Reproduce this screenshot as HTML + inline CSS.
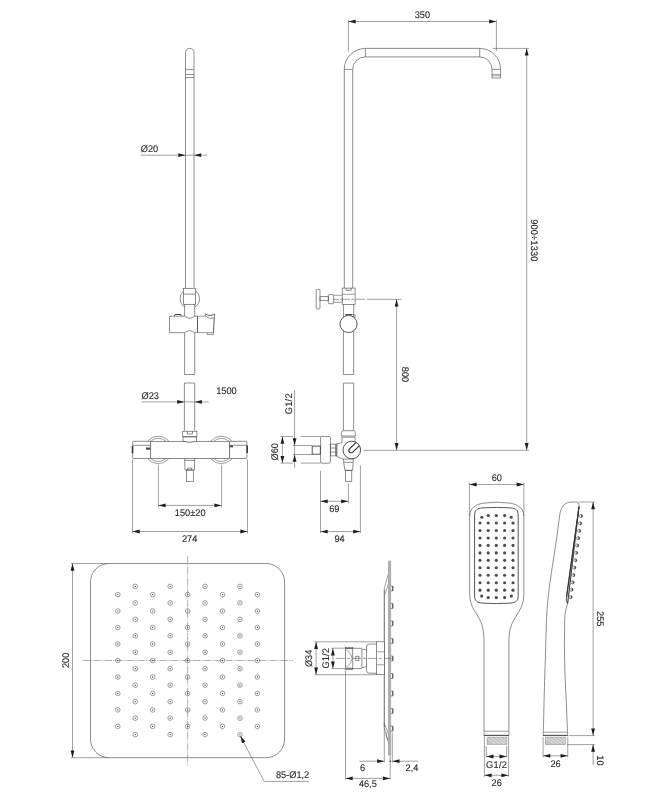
<!DOCTYPE html>
<html lang="en"><head><meta charset="utf-8"><title>Shower set – technical drawing</title>
<style>
html,body{margin:0;padding:0;background:#fff;}
body{width:654px;height:800px;overflow:hidden;}
svg{display:block;filter:grayscale(1);}
svg line,svg rect,svg circle,svg path{fill:none;stroke:#505050;stroke-width:0.65;}
svg .w{fill:#fff;}
svg .d{stroke-width:0.6;stroke:#606060;}
svg .c{stroke-width:0.5;stroke:#666;stroke-dasharray:7.5 1.1 1.3 1.1;}
svg .a{fill:#1e1e1e;stroke:none;}
svg .k{fill:#4a4a4a;stroke:none;}
svg .wf{fill:#fff;stroke:none;}
svg .t2{stroke-width:1;stroke:#444;}
svg .s2{stroke-width:0.9;stroke:#444;}
svg .s3{stroke-width:1.1;stroke:#333;}
svg .c2{stroke-width:0.6;stroke:#606060;stroke-dasharray:9 2 3 2;}
svg .g{fill:#b0b0b0;stroke:#999;stroke-width:0.4;}
svg .t{stroke-width:1.5;stroke:#333;}
svg .h{fill:#c4c4c4;stroke:#888;stroke-width:0.5;}
svg .hl{stroke:#e4e4e4;stroke-width:0.9;}
svg text{font-family:"Liberation Sans",sans-serif;font-size:9.6px;fill:#2a2a2a;stroke:#2a2a2a;stroke-width:0.12;text-rendering:geometricPrecision;}
</style></head>
<body>
<svg width="654" height="800" viewBox="0 0 654 800">
<path d="M185.5 288 V52.55 A4.25 4.25 0 0 1 194.0 52.55 V288"/>
<line x1="185.50" y1="69.60" x2="194.00" y2="69.60"/>
<line x1="185.50" y1="74.60" x2="194.00" y2="74.60"/>
<line x1="185.50" y1="77.60" x2="194.00" y2="77.60"/>
<line x1="140.70" y1="155.20" x2="207.00" y2="155.20" class="d"/>
<polygon class="a" points="185.50,155.20 178.30,157.10 178.30,153.30"/>
<polygon class="a" points="194.00,155.20 201.20,153.30 201.20,157.10"/>
<text transform="translate(140.80 152.00) scale(0.96 1)">Ø20</text>
<circle cx="189.80" cy="298.75" r="9.80"/>
<rect x="184.60" y="300.00" width="10.10" height="12.00" class="wf"/>
<rect x="183.40" y="288.30" width="12.20" height="16.00" class="w"/>
<line x1="183.40" y1="294.10" x2="195.60" y2="294.10"/>
<line x1="184.60" y1="304.30" x2="184.60" y2="316.20"/>
<line x1="194.70" y1="304.30" x2="194.70" y2="316.20"/>
<path d="M184.6 316.2 H169.5 V332.7 H184.6 M194.7 316.2 H197.5 M197.5 332.7 H194.7"/>
<path d="M184.6 316.2 Q189.7 320.2 194.7 316.2"/>
<path d="M184.6 332.8 Q189.7 328.6 194.7 332.8"/>
<path d="M174.3 315.9 L175.0 314.5 H180.8 L181.3 315.9" class="t2"/>
<line x1="197.50" y1="316.20" x2="197.50" y2="332.60" class="s2"/>
<path d="M197.5 316.2 H205.3 M197.5 332.6 H213.4" class="d"/>
<path d="M205.3 313.8 Q210 317.0 214.9 314.1" class="s2"/>
<path d="M205.3 313.8 V316.2 Q209.5 319.7 214.1 317.8 L214.9 314.1"/>
<path d="M214.2 317.8 L213.5 332.6" class="s2"/>
<path d="M207.1 332.6 V334.4 H213.3 V332.6"/>
<line x1="184.60" y1="332.80" x2="184.60" y2="374.50"/>
<line x1="194.70" y1="332.80" x2="194.70" y2="374.50"/>
<line x1="184.60" y1="374.50" x2="194.70" y2="374.50"/>
<path d="M184.4 430.6 V383 H194.7 V430.6"/>
<line x1="141.70" y1="401.90" x2="208.70" y2="401.90" class="d"/>
<polygon class="a" points="184.40,401.90 177.20,403.80 177.20,400.00"/>
<polygon class="a" points="194.70,401.90 201.90,400.00 201.90,403.80"/>
<text transform="translate(141.50 398.80) scale(0.96 1)">Ø23</text>
<text transform="translate(216.20 394.00) scale(0.96 1)">1500</text>
<circle cx="158.30" cy="449.90" r="13.70" class="d"/>
<circle cx="221.40" cy="449.90" r="13.70" class="d"/>
<circle cx="158.30" cy="449.90" r="11.60" class="d"/>
<circle cx="221.40" cy="449.90" r="11.60" class="d"/>
<rect x="182.70" y="431.20" width="14.20" height="5.70" class="w"/>
<line x1="182.70" y1="436.70" x2="196.90" y2="436.70"/>
<path d="M187.3 431.2 V434 H192.4 V431.2"/>
<path d="M183.1 436.9 V441.3 M196.5 436.9 V441.3"/>
<rect x="150.60" y="441.30" width="79.00" height="17.20" class="w"/>
<path d="M183.1 441.3 Q189.8 443.6 196.5 441.3" class="w"/>
<rect x="132.70" y="441.30" width="17.90" height="17.20" rx="0.6" class="w"/>
<line x1="132.70" y1="445.30" x2="150.60" y2="445.30"/>
<line x1="132.50" y1="446.00" x2="132.50" y2="453.30" class="t"/>
<rect x="146.00" y="447.50" width="4.40" height="2.20" class="k"/>
<rect x="229.60" y="441.30" width="17.30" height="17.20" rx="0.6" class="w"/>
<line x1="229.60" y1="445.30" x2="246.90" y2="445.30"/>
<line x1="247.20" y1="445.60" x2="247.20" y2="453.10" class="t"/>
<rect x="229.80" y="445.40" width="3.20" height="1.90" class="k"/>
<path d="M184.7 458.5 L185.0 470 H194.4 L194.7 458.5"/>
<line x1="184.70" y1="460.40" x2="194.70" y2="460.40"/>
<path d="M187.6 470 V468.1 H191.7 V470"/>
<rect x="186.40" y="470.00" width="6.90" height="11.30"/>
<line x1="158.40" y1="465.00" x2="158.40" y2="507.60" class="d"/>
<line x1="221.60" y1="465.00" x2="221.60" y2="507.60" class="d"/>
<line x1="158.40" y1="505.40" x2="221.60" y2="505.40" class="d"/>
<polygon class="a" points="158.40,505.40 165.60,503.50 165.60,507.30"/>
<polygon class="a" points="221.60,505.40 214.40,507.30 214.40,503.50"/>
<text transform="translate(190.20 515.60) scale(0.96 1)" text-anchor="middle">150±20</text>
<line x1="132.50" y1="459.50" x2="132.50" y2="533.50" class="d"/>
<line x1="247.50" y1="459.50" x2="247.50" y2="533.50" class="d"/>
<line x1="132.50" y1="531.50" x2="247.50" y2="531.50" class="d"/>
<polygon class="a" points="132.50,531.50 139.70,529.60 139.70,533.40"/>
<polygon class="a" points="247.50,531.50 240.30,533.40 240.30,529.60"/>
<text transform="translate(189.60 541.50) scale(0.96 1)" text-anchor="middle">274</text>
<line x1="348.40" y1="19.70" x2="348.40" y2="51.60" class="d"/>
<line x1="496.40" y1="19.70" x2="496.40" y2="50.80" class="d"/>
<line x1="348.40" y1="21.50" x2="496.40" y2="21.50" class="d"/>
<polygon class="a" points="348.40,21.50 355.60,19.60 355.60,23.40"/>
<polygon class="a" points="496.40,21.50 489.20,23.40 489.20,19.60"/>
<text transform="translate(422.40 18.30) scale(0.96 1)" text-anchor="middle">350</text>
<path d="M344.3 288.1 V69.4 A21.10 21.00 0 0 1 365.4 48.4 H479.7 A20.90 21.00 0 0 1 500.6 69.4 V78.0 H492.0 V69.4 A12.30 12.50 0 0 0 479.7 56.9 H365.4 A12.70 12.50 0 0 0 352.7 69.4 V288.1"/>
<line x1="344.30" y1="69.40" x2="352.70" y2="69.40"/>
<line x1="365.40" y1="48.40" x2="365.40" y2="56.90"/>
<line x1="479.70" y1="48.40" x2="479.70" y2="56.90"/>
<line x1="492.00" y1="69.30" x2="500.60" y2="69.30"/>
<line x1="492.00" y1="74.40" x2="500.60" y2="74.40" class="d"/>
<line x1="492.00" y1="75.80" x2="500.60" y2="75.80" class="d"/>
<line x1="493.00" y1="48.40" x2="529.00" y2="48.40" class="d"/>
<line x1="526.70" y1="48.40" x2="526.70" y2="450.30" class="d"/>
<polygon class="a" points="526.70,48.40 528.60,55.60 524.80,55.60"/>
<polygon class="a" points="526.70,450.30 524.80,443.10 528.60,443.10"/>
<text transform="translate(530.90 240.40) rotate(90) scale(0.96 1)" text-anchor="middle" letter-spacing="0.2">900÷1330</text>
<rect x="342.20" y="288.10" width="12.90" height="16.30" class="w"/>
<path d="M346.2 288.1 V290.3 H351.2 V288.1"/>
<line x1="342.20" y1="294.30" x2="355.10" y2="294.30" class="d"/>
<line x1="333.70" y1="295.30" x2="342.20" y2="295.30" class="d"/>
<line x1="333.70" y1="302.30" x2="342.20" y2="302.30" class="d"/>
<path d="M342.2 297.6 L343.2 299.3 L342.2 301"/>
<rect x="328.30" y="294.60" width="5.40" height="9.10" rx="0.9"/>
<rect x="320.00" y="296.70" width="8.30" height="4.00"/>
<rect x="316.20" y="289.40" width="3.80" height="19.60" rx="1.0"/>
<line x1="332.60" y1="299.30" x2="339.00" y2="299.30" class="d"/>
<line x1="340.20" y1="299.30" x2="342.00" y2="299.30" class="d"/>
<line x1="344.40" y1="299.30" x2="350.00" y2="299.30" class="d"/>
<line x1="351.30" y1="299.30" x2="354.20" y2="299.30" class="d"/>
<line x1="355.90" y1="299.30" x2="365.00" y2="299.30" class="d"/>
<line x1="366.90" y1="299.30" x2="401.40" y2="299.30" class="d"/>
<line x1="343.40" y1="304.40" x2="343.40" y2="374.50"/>
<line x1="353.70" y1="304.40" x2="353.70" y2="374.50"/>
<line x1="343.40" y1="374.50" x2="353.70" y2="374.50"/>
<path d="M345.1 314.6 H352.3 L355.3 315.1 L354.8 318"/>
<line x1="345.30" y1="314.70" x2="352.10" y2="314.70" class="t2"/>
<circle cx="348.55" cy="324.00" r="8.55" class="w s2"/>
<line x1="396.60" y1="299.30" x2="396.60" y2="450.30" class="d"/>
<polygon class="a" points="396.60,299.30 398.50,306.50 394.70,306.50"/>
<polygon class="a" points="396.60,450.30 394.70,443.10 398.50,443.10"/>
<text transform="translate(402.40 374.50) rotate(90) scale(0.96 1)" text-anchor="middle">800</text>
<path d="M343.4 430.7 V383.1 H353.7 V430.7"/>
<path d="M343.4 430.7 Q341.4 431 341.4 432.5 V436 H355.3 V432.5 Q355.3 431 353.7 430.7 Z" class="w"/>
<line x1="341.90" y1="437.20" x2="355.10" y2="437.20"/>
<text transform="translate(291.80 403.70) rotate(-90) scale(0.96 1)" text-anchor="middle" letter-spacing="0.3">G1/2</text>
<line x1="294.60" y1="390.00" x2="294.60" y2="467.70" class="d"/>
<polygon class="a" points="294.60,445.50 292.70,438.30 296.50,438.30"/>
<polygon class="a" points="294.60,454.50 296.50,461.70 292.70,461.70"/>
<line x1="293.00" y1="445.50" x2="312.10" y2="445.50" class="d"/>
<line x1="293.00" y1="454.50" x2="312.10" y2="454.50" class="d"/>
<line x1="280.60" y1="436.50" x2="292.90" y2="436.50" class="d"/>
<line x1="300.80" y1="436.50" x2="320.50" y2="436.50" class="d"/>
<line x1="280.60" y1="463.10" x2="292.90" y2="463.10" class="d"/>
<line x1="300.80" y1="463.10" x2="320.50" y2="463.10" class="d"/>
<line x1="282.40" y1="436.50" x2="282.40" y2="463.10" class="d"/>
<polygon class="a" points="282.40,436.50 284.30,443.70 280.50,443.70"/>
<polygon class="a" points="282.40,463.10 280.50,455.90 284.30,455.90"/>
<text transform="translate(277.90 451.80) rotate(-90) scale(0.96 1)" text-anchor="middle">Ø60</text>
<rect x="320.60" y="436.50" width="9.80" height="26.70" rx="1.2"/>
<rect x="312.20" y="446.10" width="8.10" height="8.10" class="s2"/>
<rect x="330.40" y="444.10" width="6.40" height="11.80"/>
<line x1="335.50" y1="444.10" x2="335.50" y2="455.90"/>
<line x1="330.40" y1="448.00" x2="335.50" y2="448.00"/>
<line x1="330.40" y1="452.10" x2="335.50" y2="452.10"/>
<path d="M341.9 437.2 V442.8 L336.8 443.8 V456.4 L343.0 459.1 H353.4 M355.1 437.2 V442"/>
<circle cx="351.80" cy="450.00" r="8.80" class="w s2"/>
<path d="M349.57 448.77 L356.2 442.4 M352.83 452.03 L359.6 445.6 M349.57 448.77 A2.3 2.3 0 0 0 352.83 452.03" class="s3"/>
<path d="M343.3 459.1 L344.8 470.3 H352.6 L353.4 459.1"/>
<line x1="343.70" y1="462.30" x2="353.10" y2="462.30"/>
<rect x="345.50" y="470.30" width="6.30" height="11.00"/>
<line x1="363.30" y1="450.30" x2="529.20" y2="450.30" class="d"/>
<line x1="320.50" y1="470.80" x2="320.50" y2="532.90" class="d"/>
<line x1="348.40" y1="483.70" x2="348.40" y2="503.20" class="d"/>
<line x1="320.50" y1="501.30" x2="348.40" y2="501.30" class="d"/>
<polygon class="a" points="320.50,501.30 327.70,499.40 327.70,503.20"/>
<polygon class="a" points="348.40,501.30 341.20,503.20 341.20,499.40"/>
<text transform="translate(334.30 511.50) scale(0.96 1)" text-anchor="middle">69</text>
<line x1="360.40" y1="465.20" x2="360.40" y2="532.90" class="d"/>
<line x1="320.50" y1="531.60" x2="360.40" y2="531.60" class="d"/>
<polygon class="a" points="320.50,531.60 327.70,529.70 327.70,533.50"/>
<polygon class="a" points="360.40,531.60 353.20,533.50 353.20,529.70"/>
<text transform="translate(339.50 541.50) scale(0.96 1)" text-anchor="middle">94</text>
<rect x="90.50" y="563.50" width="194.10" height="194.20" rx="18.5"/>
<line x1="70.80" y1="563.50" x2="108.00" y2="563.50" class="d"/>
<line x1="70.80" y1="757.70" x2="108.00" y2="757.70" class="d"/>
<line x1="72.50" y1="563.50" x2="72.50" y2="757.70" class="d"/>
<polygon class="a" points="72.50,563.50 74.40,570.70 70.60,570.70"/>
<polygon class="a" points="72.50,757.70 70.60,750.50 74.40,750.50"/>
<text transform="translate(68.60 660.40) rotate(-90) scale(0.96 1)" text-anchor="middle">200</text>
<line x1="187.60" y1="556.00" x2="187.60" y2="765.90" class="c"/>
<line x1="82.60" y1="660.50" x2="293.30" y2="660.50" class="c"/>
<circle cx="117.80" cy="594.62" r="2.30" class="d"/>
<circle cx="117.80" cy="594.62" r="0.70" class="k"/>
<circle cx="117.80" cy="611.09" r="2.30" class="d"/>
<circle cx="117.80" cy="611.09" r="0.70" class="k"/>
<circle cx="117.80" cy="627.56" r="2.30" class="d"/>
<circle cx="117.80" cy="627.56" r="0.70" class="k"/>
<circle cx="117.80" cy="644.03" r="2.30" class="d"/>
<circle cx="117.80" cy="644.03" r="0.70" class="k"/>
<circle cx="117.80" cy="660.50" r="2.30" class="d"/>
<circle cx="117.80" cy="660.50" r="0.70" class="k"/>
<circle cx="117.80" cy="676.97" r="2.30" class="d"/>
<circle cx="117.80" cy="676.97" r="0.70" class="k"/>
<circle cx="117.80" cy="693.44" r="2.30" class="d"/>
<circle cx="117.80" cy="693.44" r="0.70" class="k"/>
<circle cx="117.80" cy="709.91" r="2.30" class="d"/>
<circle cx="117.80" cy="709.91" r="0.70" class="k"/>
<circle cx="117.80" cy="726.38" r="2.30" class="d"/>
<circle cx="117.80" cy="726.38" r="0.70" class="k"/>
<circle cx="135.25" cy="586.38" r="2.30" class="d"/>
<circle cx="135.25" cy="586.38" r="0.70" class="k"/>
<circle cx="135.25" cy="602.86" r="2.30" class="d"/>
<circle cx="135.25" cy="602.86" r="0.70" class="k"/>
<circle cx="135.25" cy="619.33" r="2.30" class="d"/>
<circle cx="135.25" cy="619.33" r="0.70" class="k"/>
<circle cx="135.25" cy="635.79" r="2.30" class="d"/>
<circle cx="135.25" cy="635.79" r="0.70" class="k"/>
<circle cx="135.25" cy="652.26" r="2.30" class="d"/>
<circle cx="135.25" cy="652.26" r="0.70" class="k"/>
<circle cx="135.25" cy="668.74" r="2.30" class="d"/>
<circle cx="135.25" cy="668.74" r="0.70" class="k"/>
<circle cx="135.25" cy="685.21" r="2.30" class="d"/>
<circle cx="135.25" cy="685.21" r="0.70" class="k"/>
<circle cx="135.25" cy="701.67" r="2.30" class="d"/>
<circle cx="135.25" cy="701.67" r="0.70" class="k"/>
<circle cx="135.25" cy="718.14" r="2.30" class="d"/>
<circle cx="135.25" cy="718.14" r="0.70" class="k"/>
<circle cx="135.25" cy="734.62" r="2.30" class="d"/>
<circle cx="135.25" cy="734.62" r="0.70" class="k"/>
<circle cx="152.70" cy="594.62" r="2.30" class="d"/>
<circle cx="152.70" cy="594.62" r="0.70" class="k"/>
<circle cx="152.70" cy="611.09" r="2.30" class="d"/>
<circle cx="152.70" cy="611.09" r="0.70" class="k"/>
<circle cx="152.70" cy="627.56" r="2.30" class="d"/>
<circle cx="152.70" cy="627.56" r="0.70" class="k"/>
<circle cx="152.70" cy="644.03" r="2.30" class="d"/>
<circle cx="152.70" cy="644.03" r="0.70" class="k"/>
<circle cx="152.70" cy="660.50" r="2.30" class="d"/>
<circle cx="152.70" cy="660.50" r="0.70" class="k"/>
<circle cx="152.70" cy="676.97" r="2.30" class="d"/>
<circle cx="152.70" cy="676.97" r="0.70" class="k"/>
<circle cx="152.70" cy="693.44" r="2.30" class="d"/>
<circle cx="152.70" cy="693.44" r="0.70" class="k"/>
<circle cx="152.70" cy="709.91" r="2.30" class="d"/>
<circle cx="152.70" cy="709.91" r="0.70" class="k"/>
<circle cx="152.70" cy="726.38" r="2.30" class="d"/>
<circle cx="152.70" cy="726.38" r="0.70" class="k"/>
<circle cx="170.15" cy="586.38" r="2.30" class="d"/>
<circle cx="170.15" cy="586.38" r="0.70" class="k"/>
<circle cx="170.15" cy="602.86" r="2.30" class="d"/>
<circle cx="170.15" cy="602.86" r="0.70" class="k"/>
<circle cx="170.15" cy="619.33" r="2.30" class="d"/>
<circle cx="170.15" cy="619.33" r="0.70" class="k"/>
<circle cx="170.15" cy="635.79" r="2.30" class="d"/>
<circle cx="170.15" cy="635.79" r="0.70" class="k"/>
<circle cx="170.15" cy="652.26" r="2.30" class="d"/>
<circle cx="170.15" cy="652.26" r="0.70" class="k"/>
<circle cx="170.15" cy="668.74" r="2.30" class="d"/>
<circle cx="170.15" cy="668.74" r="0.70" class="k"/>
<circle cx="170.15" cy="685.21" r="2.30" class="d"/>
<circle cx="170.15" cy="685.21" r="0.70" class="k"/>
<circle cx="170.15" cy="701.67" r="2.30" class="d"/>
<circle cx="170.15" cy="701.67" r="0.70" class="k"/>
<circle cx="170.15" cy="718.14" r="2.30" class="d"/>
<circle cx="170.15" cy="718.14" r="0.70" class="k"/>
<circle cx="170.15" cy="734.62" r="2.30" class="d"/>
<circle cx="170.15" cy="734.62" r="0.70" class="k"/>
<circle cx="187.60" cy="594.62" r="2.30" class="d"/>
<circle cx="187.60" cy="594.62" r="0.70" class="k"/>
<circle cx="187.60" cy="611.09" r="2.30" class="d"/>
<circle cx="187.60" cy="611.09" r="0.70" class="k"/>
<circle cx="187.60" cy="627.56" r="2.30" class="d"/>
<circle cx="187.60" cy="627.56" r="0.70" class="k"/>
<circle cx="187.60" cy="644.03" r="2.30" class="d"/>
<circle cx="187.60" cy="644.03" r="0.70" class="k"/>
<circle cx="187.60" cy="660.50" r="2.30" class="d"/>
<circle cx="187.60" cy="660.50" r="0.70" class="k"/>
<circle cx="187.60" cy="676.97" r="2.30" class="d"/>
<circle cx="187.60" cy="676.97" r="0.70" class="k"/>
<circle cx="187.60" cy="693.44" r="2.30" class="d"/>
<circle cx="187.60" cy="693.44" r="0.70" class="k"/>
<circle cx="187.60" cy="709.91" r="2.30" class="d"/>
<circle cx="187.60" cy="709.91" r="0.70" class="k"/>
<circle cx="187.60" cy="726.38" r="2.30" class="d"/>
<circle cx="187.60" cy="726.38" r="0.70" class="k"/>
<circle cx="205.05" cy="586.38" r="2.30" class="d"/>
<circle cx="205.05" cy="586.38" r="0.70" class="k"/>
<circle cx="205.05" cy="602.86" r="2.30" class="d"/>
<circle cx="205.05" cy="602.86" r="0.70" class="k"/>
<circle cx="205.05" cy="619.33" r="2.30" class="d"/>
<circle cx="205.05" cy="619.33" r="0.70" class="k"/>
<circle cx="205.05" cy="635.79" r="2.30" class="d"/>
<circle cx="205.05" cy="635.79" r="0.70" class="k"/>
<circle cx="205.05" cy="652.26" r="2.30" class="d"/>
<circle cx="205.05" cy="652.26" r="0.70" class="k"/>
<circle cx="205.05" cy="668.74" r="2.30" class="d"/>
<circle cx="205.05" cy="668.74" r="0.70" class="k"/>
<circle cx="205.05" cy="685.21" r="2.30" class="d"/>
<circle cx="205.05" cy="685.21" r="0.70" class="k"/>
<circle cx="205.05" cy="701.67" r="2.30" class="d"/>
<circle cx="205.05" cy="701.67" r="0.70" class="k"/>
<circle cx="205.05" cy="718.14" r="2.30" class="d"/>
<circle cx="205.05" cy="718.14" r="0.70" class="k"/>
<circle cx="205.05" cy="734.62" r="2.30" class="d"/>
<circle cx="205.05" cy="734.62" r="0.70" class="k"/>
<circle cx="222.50" cy="594.62" r="2.30" class="d"/>
<circle cx="222.50" cy="594.62" r="0.70" class="k"/>
<circle cx="222.50" cy="611.09" r="2.30" class="d"/>
<circle cx="222.50" cy="611.09" r="0.70" class="k"/>
<circle cx="222.50" cy="627.56" r="2.30" class="d"/>
<circle cx="222.50" cy="627.56" r="0.70" class="k"/>
<circle cx="222.50" cy="644.03" r="2.30" class="d"/>
<circle cx="222.50" cy="644.03" r="0.70" class="k"/>
<circle cx="222.50" cy="660.50" r="2.30" class="d"/>
<circle cx="222.50" cy="660.50" r="0.70" class="k"/>
<circle cx="222.50" cy="676.97" r="2.30" class="d"/>
<circle cx="222.50" cy="676.97" r="0.70" class="k"/>
<circle cx="222.50" cy="693.44" r="2.30" class="d"/>
<circle cx="222.50" cy="693.44" r="0.70" class="k"/>
<circle cx="222.50" cy="709.91" r="2.30" class="d"/>
<circle cx="222.50" cy="709.91" r="0.70" class="k"/>
<circle cx="222.50" cy="726.38" r="2.30" class="d"/>
<circle cx="222.50" cy="726.38" r="0.70" class="k"/>
<circle cx="239.95" cy="586.38" r="2.30" class="d"/>
<circle cx="239.95" cy="586.38" r="0.70" class="k"/>
<circle cx="239.95" cy="602.86" r="2.30" class="d"/>
<circle cx="239.95" cy="602.86" r="0.70" class="k"/>
<circle cx="239.95" cy="619.33" r="2.30" class="d"/>
<circle cx="239.95" cy="619.33" r="0.70" class="k"/>
<circle cx="239.95" cy="635.79" r="2.30" class="d"/>
<circle cx="239.95" cy="635.79" r="0.70" class="k"/>
<circle cx="239.95" cy="652.26" r="2.30" class="d"/>
<circle cx="239.95" cy="652.26" r="0.70" class="k"/>
<circle cx="239.95" cy="668.74" r="2.30" class="d"/>
<circle cx="239.95" cy="668.74" r="0.70" class="k"/>
<circle cx="239.95" cy="685.21" r="2.30" class="d"/>
<circle cx="239.95" cy="685.21" r="0.70" class="k"/>
<circle cx="239.95" cy="701.67" r="2.30" class="d"/>
<circle cx="239.95" cy="701.67" r="0.70" class="k"/>
<circle cx="239.95" cy="718.14" r="2.30" class="d"/>
<circle cx="239.95" cy="718.14" r="0.70" class="k"/>
<circle cx="239.95" cy="734.62" r="2.30" class="d"/>
<circle cx="239.95" cy="734.62" r="0.70" class="k"/>
<circle cx="257.40" cy="594.62" r="2.30" class="d"/>
<circle cx="257.40" cy="594.62" r="0.70" class="k"/>
<circle cx="257.40" cy="611.09" r="2.30" class="d"/>
<circle cx="257.40" cy="611.09" r="0.70" class="k"/>
<circle cx="257.40" cy="627.56" r="2.30" class="d"/>
<circle cx="257.40" cy="627.56" r="0.70" class="k"/>
<circle cx="257.40" cy="644.03" r="2.30" class="d"/>
<circle cx="257.40" cy="644.03" r="0.70" class="k"/>
<circle cx="257.40" cy="660.50" r="2.30" class="d"/>
<circle cx="257.40" cy="660.50" r="0.70" class="k"/>
<circle cx="257.40" cy="676.97" r="2.30" class="d"/>
<circle cx="257.40" cy="676.97" r="0.70" class="k"/>
<circle cx="257.40" cy="693.44" r="2.30" class="d"/>
<circle cx="257.40" cy="693.44" r="0.70" class="k"/>
<circle cx="257.40" cy="709.91" r="2.30" class="d"/>
<circle cx="257.40" cy="709.91" r="0.70" class="k"/>
<circle cx="257.40" cy="726.38" r="2.30" class="d"/>
<circle cx="257.40" cy="726.38" r="0.70" class="k"/>
<line x1="240.00" y1="735.40" x2="264.20" y2="781.40" class="d"/>
<line x1="264.20" y1="781.40" x2="308.80" y2="781.40" class="d"/>
<polygon class="a" points="240.40,736.00 245.43,741.49 242.07,743.26"/>
<text transform="translate(275.90 777.50) scale(0.96 1)">85-Ø1,2</text>
<path d="M388.4 573.6 L384.3 588.5 V727 L384.3 723.4 M390 579.8 L384.5 595 M384.3 723.4 L387.5 731.6 L386.1 735.1 L389.3 744 M384.3 727.5 L387.9 741" class="d"/>
<line x1="384.30" y1="590.00" x2="384.30" y2="762.60" class="d"/>
<rect x="388.20" y="561.00" width="2.70" height="194.00" class="g"/>
<path d="M390.9 586.10 H392.8 V590.90 H390.9"/>
<line x1="392.80" y1="586.10" x2="392.80" y2="590.90" class="s2"/>
<path d="M390.9 603.60 H392.8 V608.40 H390.9"/>
<line x1="392.80" y1="603.60" x2="392.80" y2="608.40" class="s2"/>
<path d="M390.9 621.10 H392.8 V625.90 H390.9"/>
<line x1="392.80" y1="621.10" x2="392.80" y2="625.90" class="s2"/>
<path d="M390.9 638.60 H392.8 V643.40 H390.9"/>
<line x1="392.80" y1="638.60" x2="392.80" y2="643.40" class="s2"/>
<path d="M390.9 656.10 H392.8 V660.90 H390.9"/>
<line x1="392.80" y1="656.10" x2="392.80" y2="660.90" class="s2"/>
<path d="M390.9 673.60 H392.8 V678.40 H390.9"/>
<line x1="392.80" y1="673.60" x2="392.80" y2="678.40" class="s2"/>
<path d="M390.9 691.10 H392.8 V695.90 H390.9"/>
<line x1="392.80" y1="691.10" x2="392.80" y2="695.90" class="s2"/>
<path d="M390.9 708.60 H392.8 V713.40 H390.9"/>
<line x1="392.80" y1="708.60" x2="392.80" y2="713.40" class="s2"/>
<path d="M390.9 726.10 H392.8 V730.90 H390.9"/>
<line x1="392.80" y1="726.10" x2="392.80" y2="730.90" class="s2"/>
<rect x="376.45" y="641.80" width="7.85" height="32.90" class="w"/>
<line x1="376.45" y1="651.80" x2="384.30" y2="651.80" class="d"/>
<line x1="376.45" y1="664.80" x2="384.30" y2="664.80" class="d"/>
<path d="M376.45 644.1 H369.3 Q366.5 644.1 366.5 647 V670.3 Q366.5 673.2 369.3 673.2 H376.45"/>
<path d="M366.5 650 L361.9 649 V667.6 L366.5 666.6"/>
<rect x="345.60" y="647.60" width="7.20" height="21.70"/>
<line x1="345.60" y1="648.60" x2="352.80" y2="648.60" class="s2"/>
<line x1="345.60" y1="668.30" x2="352.80" y2="668.30" class="s2"/>
<line x1="352.80" y1="648.30" x2="361.90" y2="648.30"/>
<line x1="352.80" y1="668.60" x2="361.90" y2="668.60"/>
<path d="M346.3 649.6 Q358 658.4 346.3 667.3" class="d"/>
<rect x="355.80" y="656.20" width="3.10" height="4.60"/>
<line x1="335.90" y1="658.40" x2="394.00" y2="658.40" class="c2"/>
<line x1="314.50" y1="641.80" x2="376.40" y2="641.80" class="d"/>
<line x1="314.50" y1="674.70" x2="376.40" y2="674.70" class="d"/>
<line x1="316.10" y1="641.80" x2="316.10" y2="674.70" class="d"/>
<polygon class="a" points="316.10,641.80 318.00,649.00 314.20,649.00"/>
<polygon class="a" points="316.10,674.70 314.20,667.50 318.00,667.50"/>
<text transform="translate(311.80 658.40) rotate(-90) scale(0.96 1)" text-anchor="middle">Ø34</text>
<line x1="331.30" y1="648.20" x2="345.60" y2="648.20" class="d"/>
<line x1="331.30" y1="668.60" x2="345.60" y2="668.60" class="d"/>
<line x1="332.90" y1="648.20" x2="332.90" y2="668.60" class="d"/>
<polygon class="a" points="332.90,648.20 334.80,655.40 331.00,655.40"/>
<polygon class="a" points="332.90,668.60 331.00,661.40 334.80,661.40"/>
<text transform="translate(329.00 658.20) rotate(-90) scale(0.96 1)" text-anchor="middle" letter-spacing="0.2">G1/2</text>
<line x1="345.50" y1="670.90" x2="345.50" y2="779.50" class="d"/>
<line x1="390.20" y1="755.00" x2="390.20" y2="779.50" class="d"/>
<line x1="392.30" y1="732.30" x2="392.30" y2="762.60" class="d"/>
<line x1="359.30" y1="761.20" x2="384.30" y2="761.20" class="d"/>
<line x1="392.30" y1="761.20" x2="418.20" y2="761.20" class="d"/>
<polygon class="a" points="384.30,761.20 377.10,763.10 377.10,759.30"/>
<polygon class="a" points="392.30,761.20 399.50,759.30 399.50,763.10"/>
<circle cx="390.20" cy="761.20" r="0.70" class="a"/>
<text transform="translate(360.00 770.90) scale(0.96 1)">6</text>
<text transform="translate(405.60 770.90) scale(0.96 1)">2,4</text>
<line x1="345.50" y1="778.40" x2="390.20" y2="778.40" class="d"/>
<polygon class="a" points="345.50,778.40 352.70,776.50 352.70,780.30"/>
<polygon class="a" points="390.20,778.40 383.00,780.30 383.00,776.50"/>
<text transform="translate(367.90 787.40) scale(0.96 1)" text-anchor="middle">46,5</text>
<line x1="469.40" y1="482.40" x2="469.40" y2="516.00" class="d"/>
<line x1="523.90" y1="482.40" x2="523.90" y2="516.00" class="d"/>
<line x1="469.40" y1="484.50" x2="523.90" y2="484.50" class="d"/>
<polygon class="a" points="469.40,484.50 476.60,482.60 476.60,486.40"/>
<polygon class="a" points="523.90,484.50 516.70,486.40 516.70,482.60"/>
<text transform="translate(496.80 481.00) scale(0.96 1)" text-anchor="middle">60</text>
<path d="M484.0 735.4 V640 C484.0 626 480 620 477.2 615 C474.5 610 469.6 606 469.6 592 V517 C469.6 507.5 476 504.2 484 503.1 Q496.7 501.3 509.5 503.1 C517.5 504.2 523.9 507.5 523.9 517 V592 C523.9 606 519.5 610 516.8 615 C514 620 508.9 626 508.9 640 V735.4 Z"/>
<line x1="484.00" y1="731.20" x2="508.90" y2="731.20" class="d"/>
<line x1="484.00" y1="735.40" x2="508.90" y2="735.40" class="s2"/>
<path d="M474.6 515 C474.6 510 477.5 508.3 482 507.9 Q496.4 506.9 510.8 507.9 C515.3 508.3 518.2 510 518.2 515 V596 C518.2 601 515.3 602.7 510.8 603.1 Q496.4 604.1 482 603.1 C477.5 602.7 474.6 601 474.6 596 Z" class="s2"/>
<circle cx="481.80" cy="517.20" r="1.55" class="k"/>
<circle cx="488.20" cy="515.60" r="1.55" class="k"/>
<circle cx="496.30" cy="515.60" r="1.55" class="k"/>
<circle cx="504.60" cy="515.60" r="1.55" class="k"/>
<circle cx="511.20" cy="517.20" r="1.55" class="k"/>
<circle cx="480.00" cy="523.06" r="1.55" class="k"/>
<circle cx="488.20" cy="523.06" r="1.55" class="k"/>
<circle cx="496.30" cy="523.06" r="1.55" class="k"/>
<circle cx="504.60" cy="523.06" r="1.55" class="k"/>
<circle cx="513.00" cy="523.06" r="1.55" class="k"/>
<circle cx="480.00" cy="530.51" r="1.55" class="k"/>
<circle cx="488.20" cy="530.51" r="1.55" class="k"/>
<circle cx="496.30" cy="530.51" r="1.55" class="k"/>
<circle cx="504.60" cy="530.51" r="1.55" class="k"/>
<circle cx="513.00" cy="530.51" r="1.55" class="k"/>
<circle cx="480.00" cy="537.97" r="1.55" class="k"/>
<circle cx="488.20" cy="537.97" r="1.55" class="k"/>
<circle cx="496.30" cy="537.97" r="1.55" class="k"/>
<circle cx="504.60" cy="537.97" r="1.55" class="k"/>
<circle cx="513.00" cy="537.97" r="1.55" class="k"/>
<circle cx="480.00" cy="545.42" r="1.55" class="k"/>
<circle cx="488.20" cy="545.42" r="1.55" class="k"/>
<circle cx="496.30" cy="545.42" r="1.55" class="k"/>
<circle cx="504.60" cy="545.42" r="1.55" class="k"/>
<circle cx="513.00" cy="545.42" r="1.55" class="k"/>
<circle cx="480.00" cy="552.88" r="1.55" class="k"/>
<circle cx="488.20" cy="552.88" r="1.55" class="k"/>
<circle cx="496.30" cy="552.88" r="1.55" class="k"/>
<circle cx="504.60" cy="552.88" r="1.55" class="k"/>
<circle cx="513.00" cy="552.88" r="1.55" class="k"/>
<circle cx="480.00" cy="560.33" r="1.55" class="k"/>
<circle cx="488.20" cy="560.33" r="1.55" class="k"/>
<circle cx="496.30" cy="560.33" r="1.55" class="k"/>
<circle cx="504.60" cy="560.33" r="1.55" class="k"/>
<circle cx="513.00" cy="560.33" r="1.55" class="k"/>
<circle cx="480.00" cy="567.79" r="1.55" class="k"/>
<circle cx="488.20" cy="567.79" r="1.55" class="k"/>
<circle cx="496.30" cy="567.79" r="1.55" class="k"/>
<circle cx="504.60" cy="567.79" r="1.55" class="k"/>
<circle cx="513.00" cy="567.79" r="1.55" class="k"/>
<circle cx="480.00" cy="575.24" r="1.55" class="k"/>
<circle cx="488.20" cy="575.24" r="1.55" class="k"/>
<circle cx="496.30" cy="575.24" r="1.55" class="k"/>
<circle cx="504.60" cy="575.24" r="1.55" class="k"/>
<circle cx="513.00" cy="575.24" r="1.55" class="k"/>
<circle cx="480.00" cy="582.70" r="1.55" class="k"/>
<circle cx="488.20" cy="582.70" r="1.55" class="k"/>
<circle cx="496.30" cy="582.70" r="1.55" class="k"/>
<circle cx="504.60" cy="582.70" r="1.55" class="k"/>
<circle cx="513.00" cy="582.70" r="1.55" class="k"/>
<circle cx="480.00" cy="590.15" r="1.55" class="k"/>
<circle cx="488.20" cy="590.15" r="1.55" class="k"/>
<circle cx="496.30" cy="590.15" r="1.55" class="k"/>
<circle cx="504.60" cy="590.15" r="1.55" class="k"/>
<circle cx="513.00" cy="590.15" r="1.55" class="k"/>
<circle cx="481.70" cy="596.11" r="1.55" class="k"/>
<circle cx="488.20" cy="597.61" r="1.55" class="k"/>
<circle cx="496.30" cy="597.61" r="1.55" class="k"/>
<circle cx="504.60" cy="597.61" r="1.55" class="k"/>
<circle cx="511.40" cy="596.11" r="1.55" class="k"/>
<rect x="487.10" y="737.10" width="19.80" height="7.30" class="h"/>
<line x1="487.10" y1="737.96" x2="495.50" y2="743.80" class="hl"/>
<line x1="490.90" y1="737.60" x2="499.90" y2="743.80" class="hl"/>
<line x1="495.30" y1="737.60" x2="504.30" y2="743.80" class="hl"/>
<line x1="499.70" y1="737.60" x2="506.90" y2="742.72" class="hl"/>
<line x1="504.10" y1="737.60" x2="506.90" y2="740.08" class="hl"/>
<line x1="486.30" y1="746.20" x2="486.30" y2="757.60" class="d"/>
<line x1="506.70" y1="746.20" x2="506.70" y2="757.60" class="d"/>
<line x1="486.30" y1="756.50" x2="506.70" y2="756.50" class="d"/>
<polygon class="a" points="486.30,756.50 493.50,754.60 493.50,758.40"/>
<polygon class="a" points="506.70,756.50 499.50,758.40 499.50,754.60"/>
<text transform="translate(496.60 767.60) scale(0.96 1)" text-anchor="middle" letter-spacing="0.3">G1/2</text>
<line x1="484.40" y1="735.50" x2="484.40" y2="776.80" class="d"/>
<line x1="508.60" y1="735.50" x2="508.60" y2="776.80" class="d"/>
<line x1="484.40" y1="775.30" x2="508.60" y2="775.30" class="d"/>
<polygon class="a" points="484.40,775.30 491.60,773.40 491.60,777.20"/>
<polygon class="a" points="508.60,775.30 501.40,777.20 501.40,773.40"/>
<text transform="translate(496.70 785.90) scale(0.96 1)" text-anchor="middle">26</text>
<path d="M543.1 735.4 C543.17 733.67 543.33 730.90 543.50 725.00 C543.67 719.10 543.88 708.33 544.10 700.00 C544.32 691.67 544.57 682.50 544.80 675.00 C545.03 667.50 545.30 661.67 545.50 655.00 C545.70 648.33 545.75 642.50 546.00 635.00 C546.25 627.50 546.40 618.33 547.00 610.00 C547.60 601.67 548.53 593.33 549.60 585.00 C550.67 576.67 552.20 568.00 553.40 560.00 C554.60 552.00 555.73 544.58 556.80 537.00 C557.87 529.42 559.30 518.25 559.80 514.50 C560.8 507.5 564.5 502 571.7 502 H576.8 Q579 502 579 504.5 V506.5 L567.6 603.5 C567.23 604.92 565.88 609.25 565.40 612.00 C564.92 614.75 564.85 616.17 564.70 620.00 C564.55 623.83 564.53 630.00 564.50 635.00 C564.47 640.00 564.42 643.33 564.50 650.00 C564.58 656.67 564.72 666.67 565.00 675.00 C565.28 683.33 565.83 691.67 566.20 700.00 C566.57 708.33 566.94 719.10 567.20 725.00 C567.46 730.90 567.66 733.67 567.75 735.40 Z"/>
<line x1="543.20" y1="732.20" x2="567.70" y2="732.20" class="d"/>
<line x1="543.10" y1="735.40" x2="567.75" y2="735.40" class="s2"/>
<path d="M579.0 506.5 L566.4 597.0 Q565.8 601.5 567.6 603.5 L568.3 598.0 Z" class="s2"/>
<line x1="579.00" y1="506.80" x2="566.70" y2="597.00" class="s3"/>
<circle cx="581.00" cy="516.00" r="1.55" class="w"/>
<path d="M581.20 514.45 A1.55 1.55 0 0 1 581.20 517.55 Z" class="k"/>
<circle cx="580.04" cy="523.37" r="1.55" class="w"/>
<path d="M580.25 521.82 A1.55 1.55 0 0 1 580.25 524.92 Z" class="k"/>
<circle cx="579.09" cy="530.74" r="1.55" class="w"/>
<path d="M579.29 529.19 A1.55 1.55 0 0 1 579.29 532.29 Z" class="k"/>
<circle cx="578.13" cy="538.12" r="1.55" class="w"/>
<path d="M578.34 536.57 A1.55 1.55 0 0 1 578.34 539.67 Z" class="k"/>
<circle cx="577.18" cy="545.49" r="1.55" class="w"/>
<path d="M577.38 543.94 A1.55 1.55 0 0 1 577.38 547.04 Z" class="k"/>
<circle cx="576.23" cy="552.86" r="1.55" class="w"/>
<path d="M576.43 551.31 A1.55 1.55 0 0 1 576.43 554.41 Z" class="k"/>
<circle cx="575.27" cy="560.23" r="1.55" class="w"/>
<path d="M575.47 558.68 A1.55 1.55 0 0 1 575.47 561.78 Z" class="k"/>
<circle cx="574.32" cy="567.60" r="1.55" class="w"/>
<path d="M574.52 566.05 A1.55 1.55 0 0 1 574.52 569.15 Z" class="k"/>
<circle cx="573.36" cy="574.98" r="1.55" class="w"/>
<path d="M573.56 573.43 A1.55 1.55 0 0 1 573.56 576.53 Z" class="k"/>
<circle cx="572.40" cy="582.35" r="1.55" class="w"/>
<path d="M572.61 580.80 A1.55 1.55 0 0 1 572.61 583.90 Z" class="k"/>
<circle cx="571.45" cy="589.72" r="1.55" class="w"/>
<path d="M571.65 588.17 A1.55 1.55 0 0 1 571.65 591.27 Z" class="k"/>
<circle cx="570.50" cy="597.09" r="1.55" class="w"/>
<path d="M570.70 595.54 A1.55 1.55 0 0 1 570.70 598.64 Z" class="k"/>
<rect x="545.30" y="737.10" width="20.10" height="7.60" class="h"/>
<line x1="545.30" y1="737.96" x2="553.70" y2="743.80" class="hl"/>
<line x1="549.10" y1="737.60" x2="558.10" y2="743.80" class="hl"/>
<line x1="553.50" y1="737.60" x2="562.50" y2="743.80" class="hl"/>
<line x1="557.90" y1="737.60" x2="565.40" y2="742.90" class="hl"/>
<line x1="562.30" y1="737.60" x2="565.40" y2="740.26" class="hl"/>
<line x1="579.20" y1="502.00" x2="594.90" y2="502.00" class="d"/>
<line x1="593.10" y1="502.00" x2="593.10" y2="735.60" class="d"/>
<polygon class="a" points="593.10,502.00 595.00,509.20 591.20,509.20"/>
<polygon class="a" points="593.10,735.60 591.20,728.40 595.00,728.40"/>
<text transform="translate(597.30 618.80) rotate(90) scale(0.96 1)" text-anchor="middle">255</text>
<line x1="568.80" y1="735.60" x2="594.80" y2="735.60" class="d"/>
<line x1="567.00" y1="744.60" x2="594.80" y2="744.60" class="d"/>
<line x1="593.10" y1="744.60" x2="593.10" y2="765.00" class="d"/>
<polygon class="a" points="593.10,744.60 595.00,751.80 591.20,751.80"/>
<text transform="translate(597.30 760.40) rotate(90) scale(0.96 1)" text-anchor="middle">10</text>
<line x1="543.10" y1="736.90" x2="543.10" y2="757.40" class="d"/>
<line x1="567.75" y1="736.90" x2="567.75" y2="757.40" class="d"/>
<line x1="543.10" y1="755.80" x2="567.75" y2="755.80" class="d"/>
<polygon class="a" points="543.10,755.80 550.30,753.90 550.30,757.70"/>
<polygon class="a" points="567.75,755.80 560.55,757.70 560.55,753.90"/>
<text transform="translate(555.50 766.80) scale(0.96 1)" text-anchor="middle">26</text>
</svg>
</body></html>
